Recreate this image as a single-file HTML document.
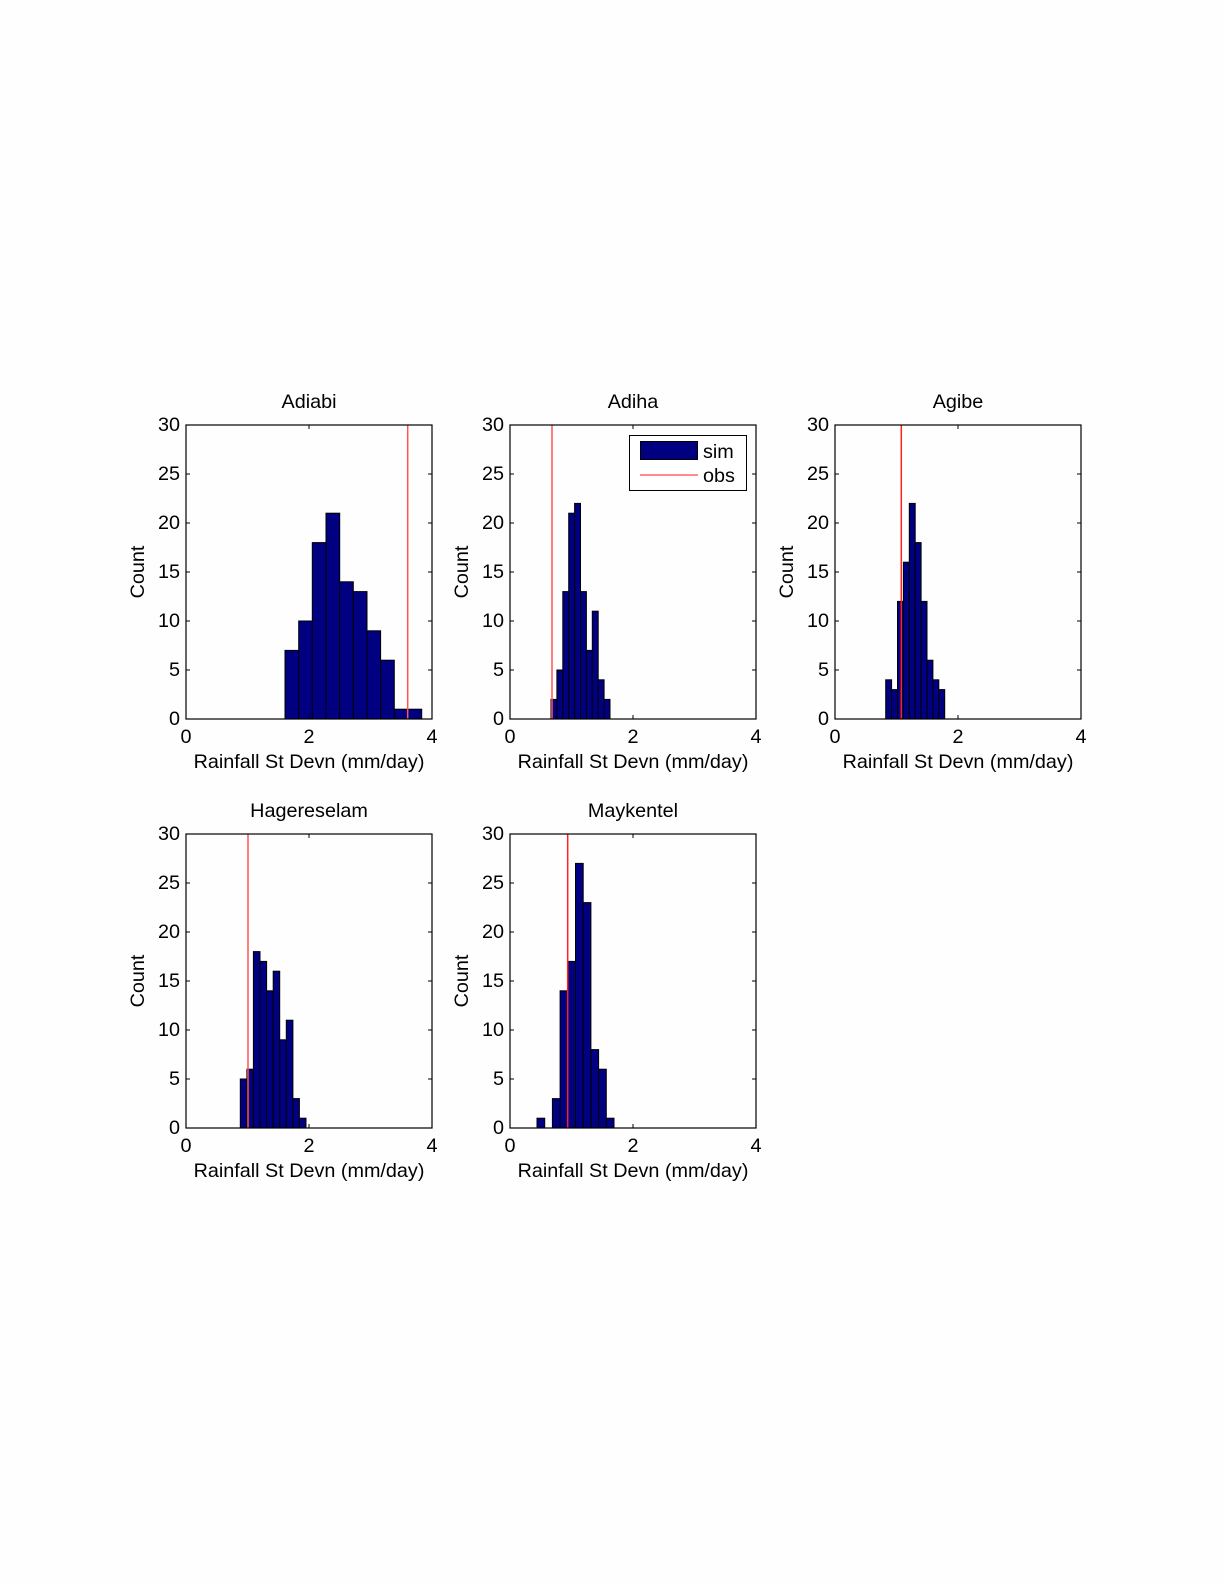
<!DOCTYPE html>
<html><head><meta charset="utf-8"><style>
html,body{margin:0;padding:0;background:#fefefe;}
svg{display:block;}
text{font-family:"Liberation Sans",sans-serif;font-size:19.8px;fill:#000;}
.b{fill:#000080;stroke:#000;stroke-width:1;}
.ax{fill:none;stroke:#000;stroke-width:1.2;}
.r{stroke:#ff5555;stroke-width:1.5;}
</style></head><body>
<svg width="1224" height="1584" xmlns="http://www.w3.org/2000/svg">
<defs>
<g id="ticks">
<path d="M0,245h4M0,196h4M0,147h4M0,98h4M0,49h4M246,245h-4M246,196h-4M246,147h-4M246,98h-4M246,49h-4M123,294v-4M123,0v4" stroke="#000" stroke-width="1"/>
</g>
</defs>

<!-- Plot 1 -->
<g>
<rect class="b" x="285" y="650.4" width="13.7" height="68.6"/>
<rect class="b" x="298.7" y="621" width="13.6" height="98"/>
<rect class="b" x="312.3" y="542.6" width="13.7" height="176.4"/>
<rect class="b" x="326" y="513.2" width="13.7" height="205.8"/>
<rect class="b" x="339.7" y="581.8" width="13.6" height="137.2"/>
<rect class="b" x="353.3" y="591.6" width="13.7" height="127.4"/>
<rect class="b" x="367" y="630.8" width="13.6" height="88.2"/>
<rect class="b" x="380.6" y="660.2" width="13.7" height="58.8"/>
<rect class="b" x="394.3" y="709.2" width="13.7" height="9.8"/>
<rect class="b" x="408" y="709.2" width="13.7" height="9.8"/>
<line class="r" x1="407.7" y1="425" x2="407.7" y2="719"/>
</g>
<!-- Plot 2 -->
<g>
<rect class="b" x="551" y="699.4" width="5.9" height="19.6"/>
<rect class="b" x="556.9" y="670" width="5.9" height="49"/>
<rect class="b" x="562.8" y="591.6" width="5.9" height="127.4"/>
<rect class="b" x="568.7" y="513.2" width="5.9" height="205.8"/>
<rect class="b" x="574.6" y="503.4" width="5.9" height="215.6"/>
<rect class="b" x="580.5" y="591.6" width="5.9" height="127.4"/>
<rect class="b" x="586.4" y="650.4" width="5.9" height="68.6"/>
<rect class="b" x="592.3" y="611.2" width="5.9" height="107.8"/>
<rect class="b" x="598.2" y="679.8" width="5.9" height="39.2"/>
<rect class="b" x="604.1" y="699.4" width="5.9" height="19.6"/>
<line class="r" x1="552" y1="425" x2="552" y2="719"/>
</g>
<!-- Plot 3 -->
<g>
<rect class="b" x="885.7" y="679.8" width="5.9" height="39.2"/>
<rect class="b" x="891.6" y="689.6" width="5.9" height="29.4"/>
<rect class="b" x="897.5" y="601.4" width="5.9" height="117.6"/>
<rect class="b" x="903.4" y="562.2" width="5.9" height="156.8"/>
<rect class="b" x="909.3" y="503.4" width="5.9" height="215.6"/>
<rect class="b" x="915.2" y="542.6" width="5.9" height="176.4"/>
<rect class="b" x="921.1" y="601.4" width="5.9" height="117.6"/>
<rect class="b" x="927" y="660.2" width="5.9" height="58.8"/>
<rect class="b" x="932.9" y="679.8" width="5.9" height="39.2"/>
<rect class="b" x="938.8" y="689.6" width="5.9" height="29.4"/>
<line x1="901.3" y1="425" x2="901.3" y2="719" stroke="#ff2020" stroke-width="1.5"/>
</g>
<!-- Plot 4 -->
<g>
<rect class="b" x="240.3" y="1079" width="6.6" height="49"/>
<rect class="b" x="246.9" y="1069.2" width="6.5" height="58.8"/>
<rect class="b" x="253.4" y="951.6" width="6.6" height="176.4"/>
<rect class="b" x="260" y="961.4" width="6.6" height="166.6"/>
<rect class="b" x="266.6" y="990.8" width="6.6" height="137.2"/>
<rect class="b" x="273.2" y="971.2" width="6.5" height="156.8"/>
<rect class="b" x="279.7" y="1039.8" width="6.6" height="88.2"/>
<rect class="b" x="286.3" y="1020.2" width="6.6" height="107.8"/>
<rect class="b" x="292.9" y="1098.6" width="6.5" height="29.4"/>
<rect class="b" x="299.4" y="1118.2" width="6.6" height="9.8"/>
<line class="r" x1="248" y1="834" x2="248" y2="1128"/>
</g>
<!-- Plot 5 -->
<g>
<rect class="b" x="537" y="1118.2" width="7.7" height="9.8"/>
<rect class="b" x="552.4" y="1098.6" width="7.7" height="29.4"/>
<rect class="b" x="560.1" y="990.8" width="7.7" height="137.2"/>
<rect class="b" x="567.8" y="961.4" width="7.7" height="166.6"/>
<rect class="b" x="575.5" y="863.4" width="7.7" height="264.6"/>
<rect class="b" x="583.2" y="902.6" width="7.7" height="225.4"/>
<rect class="b" x="590.9" y="1049.6" width="7.7" height="78.4"/>
<rect class="b" x="598.6" y="1069.2" width="7.7" height="58.8"/>
<rect class="b" x="606.3" y="1118.2" width="7.7" height="9.8"/>
<line x1="567.7" y1="834" x2="567.7" y2="1128" stroke="#ff2020" stroke-width="1.5"/>
</g>

<!-- Axes frames, ticks, labels -->
<g transform="translate(186,425)">
<rect class="ax" x="0" y="0" width="246" height="294"/><use href="#ticks"/>
<text x="123" y="-17" text-anchor="middle">Adiabi</text>
<g text-anchor="end"><text x="-6" y="300">0</text><text x="-6" y="251">5</text><text x="-6" y="202">10</text><text x="-6" y="153">15</text><text x="-6" y="104">20</text><text x="-6" y="55">25</text><text x="-6" y="6">30</text></g>
<g text-anchor="middle"><text x="0" y="318">0</text><text x="123" y="318">2</text><text x="246" y="318">4</text><text x="123" y="343">Rainfall St Devn (mm/day)</text></g>
<text transform="translate(-42,147) rotate(-90)" text-anchor="middle">Count</text>
</g>
<g transform="translate(510,425)">
<rect class="ax" x="0" y="0" width="246" height="294"/><use href="#ticks"/>
<text x="123" y="-17" text-anchor="middle">Adiha</text>
<g text-anchor="end"><text x="-6" y="300">0</text><text x="-6" y="251">5</text><text x="-6" y="202">10</text><text x="-6" y="153">15</text><text x="-6" y="104">20</text><text x="-6" y="55">25</text><text x="-6" y="6">30</text></g>
<g text-anchor="middle"><text x="0" y="318">0</text><text x="123" y="318">2</text><text x="246" y="318">4</text><text x="123" y="343">Rainfall St Devn (mm/day)</text></g>
<text transform="translate(-42,147) rotate(-90)" text-anchor="middle">Count</text>
</g>
<g transform="translate(835,425)">
<rect class="ax" x="0" y="0" width="246" height="294"/><use href="#ticks"/>
<text x="123" y="-17" text-anchor="middle">Agibe</text>
<g text-anchor="end"><text x="-6" y="300">0</text><text x="-6" y="251">5</text><text x="-6" y="202">10</text><text x="-6" y="153">15</text><text x="-6" y="104">20</text><text x="-6" y="55">25</text><text x="-6" y="6">30</text></g>
<g text-anchor="middle"><text x="0" y="318">0</text><text x="123" y="318">2</text><text x="246" y="318">4</text><text x="123" y="343">Rainfall St Devn (mm/day)</text></g>
<text transform="translate(-42,147) rotate(-90)" text-anchor="middle">Count</text>
</g>
<g transform="translate(186,834)">
<rect class="ax" x="0" y="0" width="246" height="294"/><use href="#ticks"/>
<text x="123" y="-17" text-anchor="middle">Hagereselam</text>
<g text-anchor="end"><text x="-6" y="300">0</text><text x="-6" y="251">5</text><text x="-6" y="202">10</text><text x="-6" y="153">15</text><text x="-6" y="104">20</text><text x="-6" y="55">25</text><text x="-6" y="6">30</text></g>
<g text-anchor="middle"><text x="0" y="318">0</text><text x="123" y="318">2</text><text x="246" y="318">4</text><text x="123" y="343">Rainfall St Devn (mm/day)</text></g>
<text transform="translate(-42,147) rotate(-90)" text-anchor="middle">Count</text>
</g>
<g transform="translate(510,834)">
<rect class="ax" x="0" y="0" width="246" height="294"/><use href="#ticks"/>
<text x="123" y="-17" text-anchor="middle">Maykentel</text>
<g text-anchor="end"><text x="-6" y="300">0</text><text x="-6" y="251">5</text><text x="-6" y="202">10</text><text x="-6" y="153">15</text><text x="-6" y="104">20</text><text x="-6" y="55">25</text><text x="-6" y="6">30</text></g>
<g text-anchor="middle"><text x="0" y="318">0</text><text x="123" y="318">2</text><text x="246" y="318">4</text><text x="123" y="343">Rainfall St Devn (mm/day)</text></g>
<text transform="translate(-42,147) rotate(-90)" text-anchor="middle">Count</text>
</g>

<!-- Legend -->
<rect x="629.5" y="435.5" width="117" height="55" fill="#fff" stroke="#000" stroke-width="1"/>
<rect x="640.5" y="441.5" width="57" height="18" fill="#000080" stroke="#000" stroke-width="1"/>
<line x1="640" y1="475" x2="698" y2="475" stroke="#ff6666" stroke-width="1.5"/>
<text x="703" y="458">sim</text>
<text x="703" y="482">obs</text>
</svg>
</body></html>
